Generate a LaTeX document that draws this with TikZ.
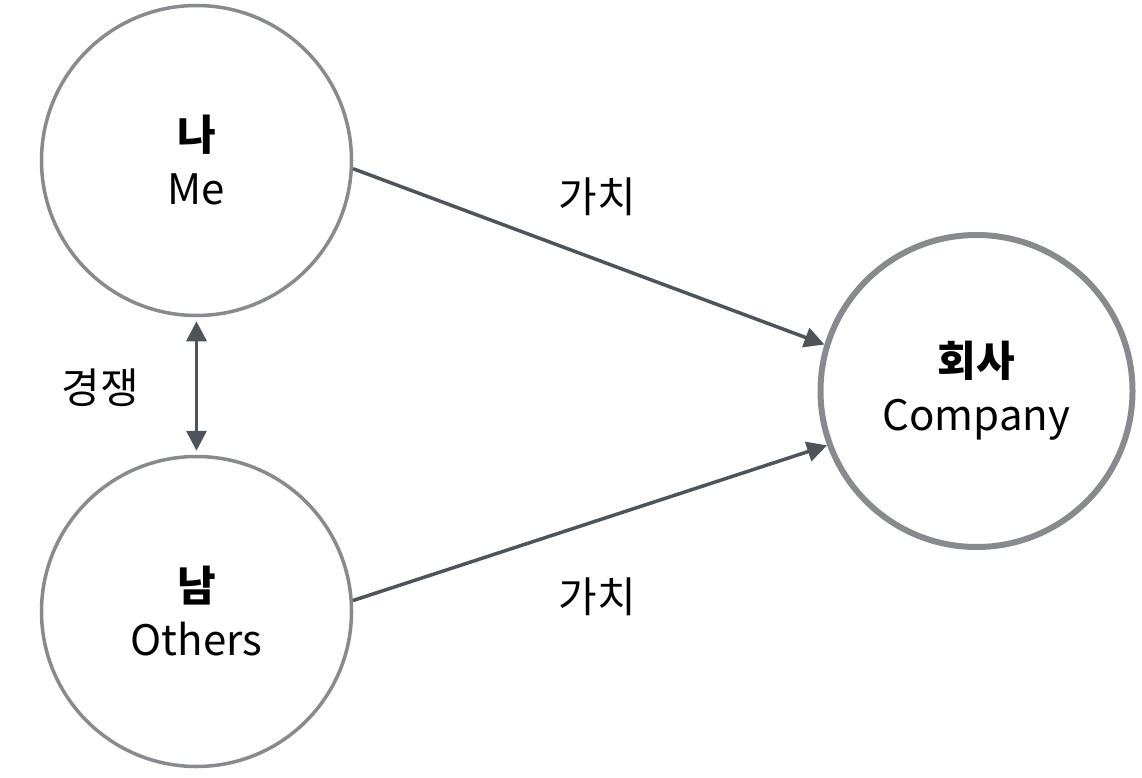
\documentclass[tikz,border=0pt]{standalone}
\usepackage{fontspec}
\setmainfont{Noto Sans CJK KR}
\usetikzlibrary{arrows.meta}
\definecolor{cgray}{HTML}{888A8E}
\definecolor{agray}{HTML}{4F545B}
\begin{document}
\begin{tikzpicture}[x=1pt,y=-1pt,
  txt/.style={font=\fontsize{42}{54}\selectfont, text=black},
  circ/.style={circle, draw=cgray, line width=3.5pt, minimum size=310pt, inner sep=0pt, align=center, txt},
  bigcirc/.style={circ, line width=6pt, minimum size=312pt},
  arr/.style={draw=agray, line width=3.5pt, -{Triangle[length=20pt,width=20pt]}},
  darr/.style={draw=agray, line width=3.5pt, {Triangle[length=20pt,width=20pt]}-{Triangle[length=20pt,width=20pt]}}
]
\useasboundingbox (0,0) rectangle (1142,778);
\node[circ] (me) at (196.5,160.5) {\textbf{나}\\Me};
\node[circ] (others) at (196.5,611.5) {\textbf{남}\\Others};
\node[bigcirc] (company) at (976.5,391) {\textbf{회사}\\Company};
\draw[arr] (me.-3.4) -- (company.163.6);
\draw[arr] (others.4) -- (company.-160.2);
\draw[darr, shorten <=4pt, shorten >=4pt] (me.south) -- (others.north);
\node[txt] (l1) at (597,197) {가치};
\node[txt] (l2) at (597,597) {가치};
\node[txt] (l3) at (100,388) {경쟁};
\end{tikzpicture}
\end{document}
